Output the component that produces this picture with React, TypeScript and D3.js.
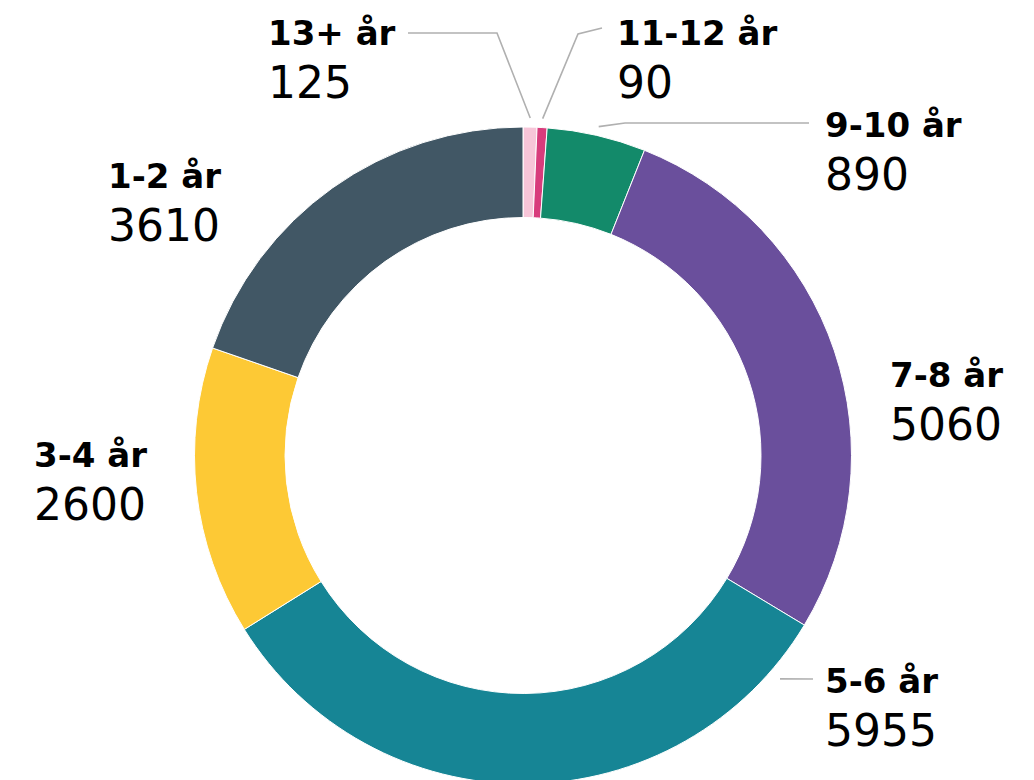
import React from "react";
import { arc, pie, PieArcDatum } from "d3";

// data, clockwise from the top
const groups = ["13+ år", "11-12 år", "9-10 år", "7-8 år", "5-6 år", "3-4 år", "1-2 år"];
const counts = [125, 90, 890, 5060, 5955, 2600, 3610];
const colors = ["#f7c5d8", "#d83c7c", "#138a6a", "#6a4f9c", "#168595", "#fdc935", "#415765"];

// label placement: left x, baseline of the bold line
const labelPos: { [k: string]: [number, number] } = {
  "13+ år": [268, 45],
  "11-12 år": [617, 45],
  "9-10 år": [825, 137],
  "7-8 år": [890, 387],
  "5-6 år": [825, 693],
  "3-4 år": [34, 467],
  "1-2 år": [108, 188],
};
// leader: angle override (deg, null = mid angle), then bend + end points
const leaders: { [k: string]: { angle: number | null; pts: [number, number][] } } = {
  "13+ år": { angle: null, pts: [[497, 33], [408, 33]] },
  "11-12 år": { angle: null, pts: [[578, 34], [602, 28]] },
  "9-10 år": { angle: null, pts: [[625, 123], [809, 123]] },
  "5-6 år": { angle: 131, pts: [[813, 679]] },
};

const W = 1034;
const H = 780;
const cx = 523;
const cy = 455.5;
const rOuter = 328.5;
const rInner = 238;

type Row = { g: string; v: number; c: string };

export default function App() {
  const data: Row[] = groups.map((g, i) => ({ g, v: counts[i], c: colors[i] }));
  const arcs = pie<Row>()
    .value(d => d.v)
    .sort(null)(data);

  const arcGen = arc<PieArcDatum<Row>>()
    .innerRadius(rInner)
    .outerRadius(rOuter);

  const font = "'DejaVu Sans', sans-serif";

  return (
    <svg width={W} height={H} style={{ position: "absolute", left: 0, top: 0 }}>
      <g transform={`translate(${cx},${cy})`}>
        {arcs.map(a => (
          <path key={a.data.g} d={arcGen(a) || ""} fill={a.data.c} stroke="#fff" strokeWidth={1} />
        ))}
      </g>

      {arcs.map(a => {
        const l = leaders[a.data.g];
        if (!l) return null;
        const ang = l.angle === null ? (a.startAngle + a.endAngle) / 2 : (l.angle * Math.PI) / 180;
        const r = l.angle === null ? rOuter + 9 : rOuter + 12;
        const sx = cx + r * Math.sin(ang);
        const sy = cy - r * Math.cos(ang);
        const pts = [[sx, sy], ...l.pts].map(p => p.join(",")).join(" ");
        return <polyline key={"l" + a.data.g} points={pts} fill="none" stroke="#b0b0b0" strokeWidth={1.6} />;
      })}

      {arcs.map(a => {
        const [x, y] = labelPos[a.data.g];
        return (
          <g key={"t" + a.data.g} fontFamily={font} fill="#000">
            <text x={x} y={y} fontSize={34} fontWeight="bold">{a.data.g}</text>
            <text x={x} y={y + 53} fontSize={44}>{a.data.v}</text>
          </g>
        );
      })}
    </svg>
  );
}
